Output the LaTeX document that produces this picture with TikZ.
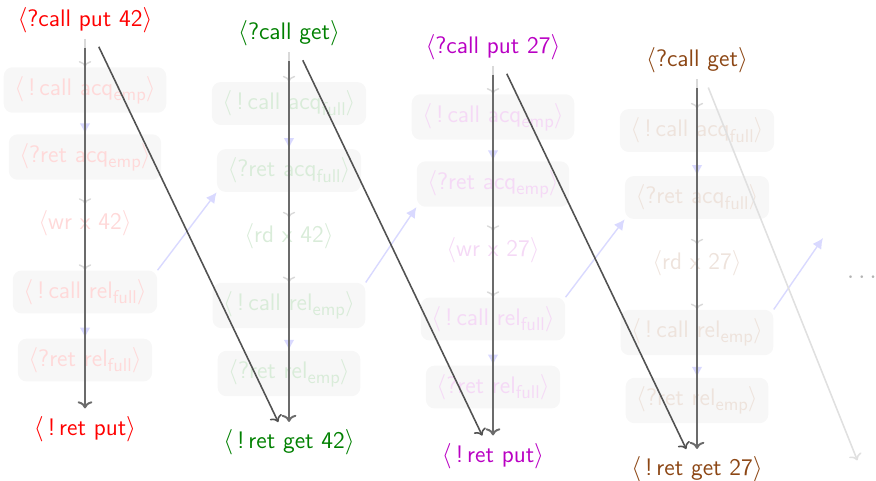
\documentclass[tikz,border=0pt]{standalone}
\usepackage{amsmath}
\usepackage{tikz}
\usetikzlibrary{arrows.meta}
\definecolor{darkbrown}{RGB}{140,70,20}
\definecolor{darkviolet}{RGB}{185,0,195}
\newcommand{\lo}[1]{\raisebox{-0.5ex}{\fontsize{10.5}{12}\selectfont #1}}

\begin{document}
\begin{tikzpicture}[font=\sffamily\fontsize{13.6}{16}\selectfont,
  evbox/.style={fill=black!3, rounded corners=5pt, inner xsep=6pt, inner ysep=5pt},
  po/.style={->, black!15, line width=0.8pt},
  sync/.style={-{Latex[length=6pt,width=6pt]}, blue!15, line width=0.8pt},
  thread/.style={->, black!58, line width=1.1pt, shorten <=5pt, shorten >=1pt},
  dep/.style={->, black!68, line width=0.9pt, shorten <=5pt, shorten >=1pt}]
\useasboundingbox (0,0) rectangle (17.52,-9.6);
% one column per operation
\foreach \i/\col/\callop/\retop/\acq/\rel/\mem in {0/red/{put 42}/{put}/emp/full/{wr x 42},
  1/green!50!black/{get}/{get 42}/full/emp/{rd x 42},
  2/darkviolet/{put 27}/{put}/emp/full/{wr x 27},
  3/darkbrown/{get}/{get 27}/full/emp/{rd x 27}}{
\begin{scope}[shift={(4.08*\i,-0.27*\i)}]
\node[text=\col] (t\i) at (1.7,-0.4) {$\langle$?call \callop$\rangle$};
\node[evbox, text=\col!15] (ca\i) at (1.7,-1.8) {$\langle$\,!\,call acq\lo{\acq}$\rangle$};
\node[evbox, text=\col!15] (ra\i) at (1.7,-3.14) {$\langle$?ret acq\lo{\acq}$\rangle$};
\node[text=\col!15] (m\i) at (1.7,-4.46) {$\langle$\mem$\rangle$};
\node[evbox, text=\col!15] (cr\i) at (1.7,-5.84) {$\langle$\,!\,call rel\lo{\rel}$\rangle$};
\node[evbox, text=\col!15] (rr\i) at (1.7,-7.2) {$\langle$?ret rel\lo{\rel}$\rangle$};
\node[text=\col] (b\i) at (1.7,-8.58) {$\langle$\,!\,ret \retop$\rangle$};
\end{scope}
\draw[po] (t\i) -- (ca\i);
\draw[sync] (ca\i) -- (ra\i);
\draw[po] (ra\i) -- (m\i);
\draw[po] (m\i) -- (cr\i);
\draw[sync] (cr\i) -- (rr\i);
\draw[thread] (t\i) -- (b\i);
}
\coordinate (ra4) at (16.46,-4.76);
\coordinate (b4) at (17.16,-9.24);
\node[text=black!30, inner sep=0pt] (more) at (17.28,-5.56) {$\cdots$};
% handover between columns
\foreach \i/\j in {0/1,1/2,2/3,3/4}
  \draw[sync] (cr\i.north east) -- (ra\j.south west);
\foreach \i/\j in {0/1,1/2,2/3}
  \draw[dep] ([xshift=0.2cm]t\i.south) -- ([xshift=-0.2cm]b\j.north);
\draw[dep, black!12] ([xshift=0.16cm]t3.south) -- (b4);
\end{tikzpicture}
\end{document}
